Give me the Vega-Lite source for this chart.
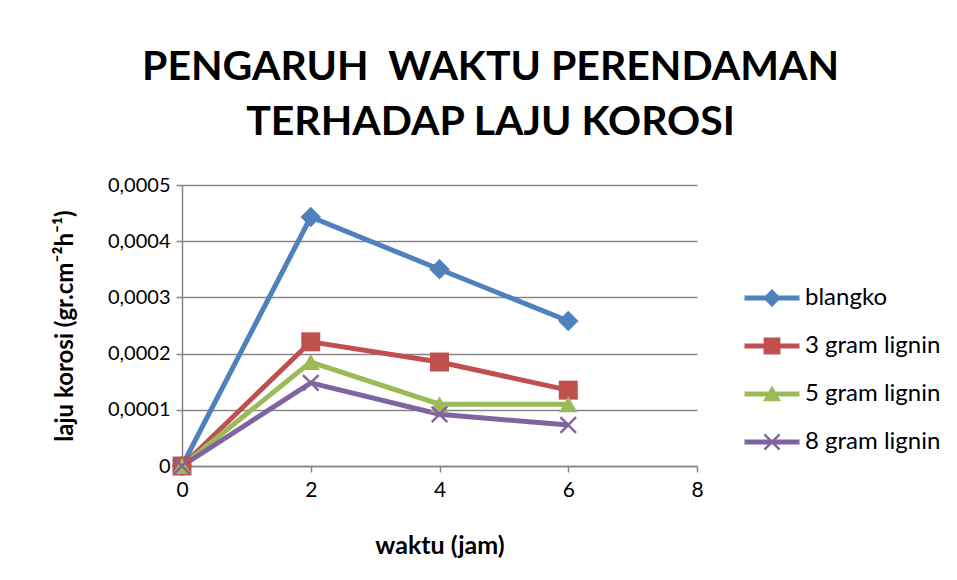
{
  "$schema": "https://vega.github.io/schema/vega-lite/v6.json",
  "autosize": {"type": "none"},
  "width": 515,
  "height": 281,
  "padding": {"left": 182, "top": 185, "right": 260, "bottom": 114},
  "background": "white",
  "title": {
    "text": ["PENGARUH\u00a0 WAKTU PERENDAMAN", "TERHADAP LAJU KOROSI"],
    "font": "Lato",
    "fontSize": 41,
    "fontWeight": "bold",
    "color": "#000000",
    "lineHeight": 55,
    "anchor": "middle",
    "dx": 51,
    "offset": 31
  },
  "data": {
    "values": [
      {"waktu": 0, "laju": 0, "seri": "blangko"},
      {"waktu": 2, "laju": 0.000443, "seri": "blangko"},
      {"waktu": 4, "laju": 0.000350, "seri": "blangko"},
      {"waktu": 6, "laju": 0.000258, "seri": "blangko"},
      {"waktu": 0, "laju": 0, "seri": "3 gram lignin"},
      {"waktu": 2, "laju": 0.000221, "seri": "3 gram lignin"},
      {"waktu": 4, "laju": 0.000185, "seri": "3 gram lignin"},
      {"waktu": 6, "laju": 0.000135, "seri": "3 gram lignin"},
      {"waktu": 0, "laju": 0, "seri": "5 gram lignin"},
      {"waktu": 2, "laju": 0.000185, "seri": "5 gram lignin"},
      {"waktu": 4, "laju": 0.000110, "seri": "5 gram lignin"},
      {"waktu": 6, "laju": 0.000110, "seri": "5 gram lignin"},
      {"waktu": 0, "laju": 0, "seri": "8 gram lignin"},
      {"waktu": 2, "laju": 0.000148, "seri": "8 gram lignin"},
      {"waktu": 4, "laju": 0.000092, "seri": "8 gram lignin"},
      {"waktu": 6, "laju": 0.000073, "seri": "8 gram lignin"}
    ]
  },
  "encoding": {
    "x": {
      "field": "waktu",
      "type": "quantitative",
      "scale": {"domain": [0, 8], "nice": false},
      "axis": {
        "values": [0, 2, 4, 6, 8],
        "title": "waktu (jam)",
        "grid": false,
        "labelFlush": false,
        "domainColor": "#868686",
        "domainWidth": 1.5,
        "tickColor": "#868686",
        "tickWidth": 1.5,
        "tickSize": 6,
        "labelFont": "Lato",
        "labelFontSize": 21,
        "labelColor": "#000000",
        "labelPadding": 7,
        "titleFont": "Lato",
        "titleFontSize": 25,
        "titleFontWeight": "bold",
        "titleColor": "#000000",
        "titlePadding": 33
      }
    },
    "y": {
      "field": "laju",
      "type": "quantitative",
      "scale": {"domain": [0, 0.0005], "nice": false},
      "axis": {
        "values": [0, 0.0001, 0.0002, 0.0003, 0.0004, 0.0005],
        "labelExpr": "datum.value == 0 ? '0' : replace(format(datum.value, '.4f'), '.', ',')",
        "title": "laju korosi (gr.cm⁻²h⁻¹)",
        "grid": true,
        "gridColor": "#868686",
        "gridWidth": 1.5,
        "domainColor": "#868686",
        "domainWidth": 1.5,
        "tickColor": "#868686",
        "tickWidth": 1.5,
        "tickSize": 6,
        "labelFont": "Lato",
        "labelFontSize": 20,
        "labelColor": "#000000",
        "labelPadding": 6,
        "titleFont": "Lato",
        "titleFontSize": 24,
        "titleFontWeight": "bold",
        "titleColor": "#000000",
        "titlePadding": 30
      }
    }
  },
  "layer": [
    {
      "transform": [{"filter": "false"}],
      "mark": {"type": "point", "filled": true, "opacity": 1, "size": 1600},
      "encoding": {
        "color": {
          "field": "seri",
          "type": "nominal",
          "scale": {
            "domain": ["blangko", "3 gram lignin", "5 gram lignin", "8 gram lignin"],
            "range": ["#4F81BD", "#C0504D", "#9BBB59", "#8064A2"]
          },
          "legend": {
            "title": null,
            "orient": "none",
            "legendX": 570,
            "legendY": 93,
            "padding": 0,
            "labelFont": "Lato",
            "labelFontSize": 24,
            "labelColor": "#000000",
            "symbolSize": 1600,
            "symbolStrokeWidth": 0,
            "symbolOpacity": 1,
            "rowPadding": 16,
            "labelOffset": 13
          }
        },
        "shape": {
          "field": "seri",
          "type": "nominal",
          "scale": {
            "domain": ["blangko", "3 gram lignin", "5 gram lignin", "8 gram lignin"],
            "range": [
              "M-1.375,-0.125L1.375,-0.125L1.375,0.125L-1.375,0.125ZM0,-0.45L0.45,0L0,0.45L-0.45,0Z",
              "M-1.375,-0.125L1.375,-0.125L1.375,0.125L-1.375,0.125ZM-0.42,-0.42L0.42,-0.42L0.42,0.42L-0.42,0.42Z",
              "M-1.375,-0.125L1.375,-0.125L1.375,0.125L-1.375,0.125ZM0,-0.42L0.45,0.36L-0.45,0.36Z",
              "M-1.375,-0.125L1.375,-0.125L1.375,0.125L-1.375,0.125ZM-0.336,-0.42L0,-0.084L0.336,-0.42L0.42,-0.336L0.084,0L0.42,0.336L0.336,0.42L0,0.084L-0.336,0.42L-0.42,0.336L-0.084,0L-0.42,-0.336Z"
            ]
          },
          "legend": {
            "title": null,
            "orient": "none",
            "legendX": 570,
            "legendY": 93,
            "padding": 0,
            "labelFont": "Lato",
            "labelFontSize": 24,
            "labelColor": "#000000",
            "symbolSize": 1600,
            "symbolStrokeWidth": 0,
            "symbolOpacity": 1,
            "rowPadding": 16,
            "labelOffset": 13
          }
        }
      }
    },
    {
      "mark": {"type": "line", "strokeWidth": 5},
      "encoding": {
        "color": {"field": "seri", "type": "nominal", "legend": null},
        "detail": {"field": "seri"}
      }
    },
    {
      "transform": [{"filter": "datum.seri == 'blangko'"}],
      "mark": {"type": "point", "filled": true, "opacity": 1, "shape": "diamond", "size": 420},
      "encoding": {"color": {"field": "seri", "type": "nominal", "legend": null}}
    },
    {
      "transform": [{"filter": "datum.seri == '3 gram lignin'"}],
      "mark": {"type": "point", "filled": true, "opacity": 1, "shape": "square", "size": 360},
      "encoding": {"color": {"field": "seri", "type": "nominal", "legend": null}}
    },
    {
      "transform": [{"filter": "datum.seri == '5 gram lignin'"}],
      "mark": {"type": "point", "filled": true, "opacity": 1, "shape": "triangle-up", "size": 340},
      "encoding": {"color": {"field": "seri", "type": "nominal", "legend": null}}
    },
    {
      "transform": [{"filter": "datum.seri == '8 gram lignin'"}],
      "mark": {"type": "point", "filled": true, "opacity": 1, "shape": "M-0.8,-1L0,-0.2L0.8,-1L1,-0.8L0.2,0L1,0.8L0.8,1L0,0.2L-0.8,1L-1,0.8L-0.2,0L-1,-0.8Z", "size": 300},
      "encoding": {"color": {"field": "seri", "type": "nominal", "legend": null}}
    }
  ],
  "config": {"view": {"stroke": null}}
}
